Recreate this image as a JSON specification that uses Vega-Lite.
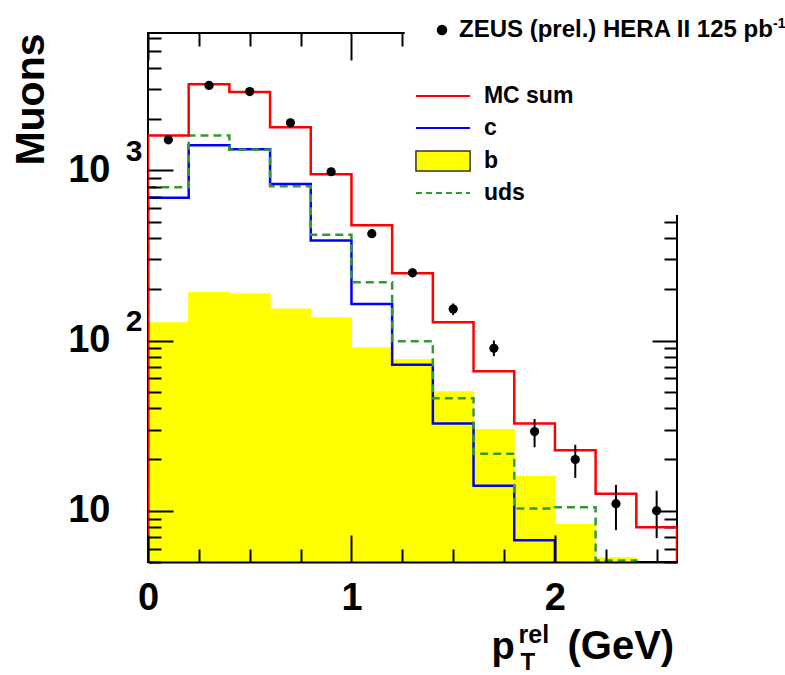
{
  "$schema": "https://vega.github.io/schema/vega-lite/v6.json",
  "width": 529,
  "height": 529,
  "autosize": {"type": "none"},
  "padding": {"left": 148, "top": 33, "right": 108, "bottom": 113},
  "background": "white",
  "config": {
    "view": {"stroke": "black", "strokeWidth": 2},
    "axis": {
      "grid": false,
      "labelFont": "Liberation Sans",
      "titleFont": "Liberation Sans",
      "labelFontWeight": "bold",
      "titleFontWeight": "bold",
      "labelColor": "black",
      "titleColor": "black",
      "tickColor": "black",
      "domainColor": "black",
      "tickWidth": 2,
      "domainWidth": 2,
      "labelFlush": false,
      "labelOverlap": false,
      "labelBound": false
    },
    "text": {"font": "Liberation Sans", "fontWeight": "bold", "color": "black"}
  },
  "datasets": {
    "bins": [
      {"lo": 0.0, "hi": 0.2, "mid": 0.1, "data": 1510, "elo": 1470, "ehi": 1550, "b": 127},
      {"lo": 0.2, "hi": 0.4, "mid": 0.3, "data": 3150, "elo": 3090, "ehi": 3210, "b": 192},
      {"lo": 0.4, "hi": 0.6, "mid": 0.5, "data": 2900, "elo": 2845, "ehi": 2955, "b": 188},
      {"lo": 0.6, "hi": 0.8, "mid": 0.7, "data": 1900, "elo": 1855, "ehi": 1945, "b": 153},
      {"lo": 0.8, "hi": 1.0, "mid": 0.9, "data": 980, "elo": 950, "ehi": 1010, "b": 136},
      {"lo": 1.0, "hi": 1.2, "mid": 1.1, "data": 424, "elo": 404, "ehi": 444, "b": 90.6},
      {"lo": 1.2, "hi": 1.4, "mid": 1.3, "data": 250, "elo": 235, "ehi": 265, "b": 77},
      {"lo": 1.4, "hi": 1.6, "mid": 1.5, "data": 153, "elo": 141, "ehi": 165, "b": 50},
      {"lo": 1.6, "hi": 1.8, "mid": 1.7, "data": 90, "elo": 81, "ehi": 100, "b": 30},
      {"lo": 1.8, "hi": 2.0, "mid": 1.9, "data": 29.2, "elo": 23.6, "ehi": 34.6, "b": 15.9},
      {"lo": 2.0, "hi": 2.2, "mid": 2.1, "data": 20, "elo": 15.6, "ehi": 24.4, "b": 8.3},
      {"lo": 2.2, "hi": 2.4, "mid": 2.3, "data": 11, "elo": 7.7, "ehi": 14.2, "b": 5.3},
      {"lo": 2.4, "hi": 2.6, "mid": 2.5, "data": 10, "elo": 6.9, "ehi": 13.1, "b": null}
    ],
    "edges": [
      {"x": 0.0, "mc": 1, "c": 1, "uds": 1},
      {"x": 0.0, "mc": 1600, "c": 690, "uds": 795},
      {"x": 0.2, "mc": 3200, "c": 1400, "uds": 1600},
      {"x": 0.4, "mc": 2880, "c": 1330, "uds": 1320},
      {"x": 0.6, "mc": 1790, "c": 830, "uds": 805},
      {"x": 0.8, "mc": 947, "c": 387, "uds": 418},
      {"x": 1.0, "mc": 475, "c": 164, "uds": 220},
      {"x": 1.2, "mc": 248, "c": 72, "uds": 99},
      {"x": 1.4, "mc": 128, "c": 32.5, "uds": 45.8},
      {"x": 1.6, "mc": 66, "c": 14, "uds": 21.6},
      {"x": 1.8, "mc": 32.5, "c": 6.7, "uds": 10.3},
      {"x": 2.0, "mc": 22.7, "c": 1, "uds": 10.5},
      {"x": 2.2, "mc": 12.6, "c": 1, "uds": 5.1},
      {"x": 2.4, "mc": 8, "c": 1, "uds": 1},
      {"x": 2.6, "mc": 1, "c": 1, "uds": 1}
    ]
  },
  "layer": [
    {
      "data": {"name": "bins"},
      "mark": {"type": "rect", "fill": "#ffff00", "stroke": "#ffff00", "strokeWidth": 1, "clip": true},
      "encoding": {
        "x": {"field": "lo", "type": "quantitative", "scale": {"domain": [0, 2.6], "nice": false, "zero": false},
          "axis": {"orient": "bottom", "values": [0, 1, 2], "format": "d", "tickSize": -27, "labelFontSize": 38, "labelPadding": 44, "domain": true, "zindex": 1,
            "title": "(GeV)", "titleFontSize": 40, "titleX": 419, "titleY": 96, "titleAlign": "left", "titleBaseline": "alphabetic", "titleAngle": 0}},
        "x2": {"field": "hi"},
        "y": {"field": "b", "type": "quantitative", "scale": {"type": "log", "domain": [5, 6400], "nice": false},
          "axis": {"orient": "left", "values": [10, 100, 1000], "tickSize": -25, "labelExpr": "'10'", "labelFontSize": 38, "labelPadding": 63, "labelBaseline": "middle", "domain": false, "zindex": 1,
            "title": "Muons", "titleFontSize": 41, "titleX": -105, "titleY": 0, "titleAngle": 270, "titleAlign": "right", "titleBaseline": "alphabetic"}},
        "y2": {"datum": 1}
      }
    },
    {
      "data": {"name": "edges"},
      "mark": {"type": "line", "interpolate": "step-after", "stroke": "#0000ff", "strokeWidth": 2.5, "clip": true},
      "encoding": {
        "x": {"field": "x", "type": "quantitative", "scale": {"domain": [0, 2.6], "nice": false, "zero": false},
          "axis": {"orient": "bottom", "values": [0.25, 0.5, 0.75, 1.25, 1.5, 1.75, 2.25, 2.5], "tickSize": -13, "labels": false, "domain": false, "zindex": 1,
            "title": "p", "titleFontSize": 38, "titleX": 343, "titleY": 96, "titleAlign": "left", "titleBaseline": "alphabetic", "titleAngle": 0}},
        "y": {"field": "c", "type": "quantitative", "scale": {"type": "log", "domain": [5, 6400], "nice": false},
          "axis": {"orient": "left", "values": [5, 6, 7, 8, 9, 20, 30, 40, 50, 60, 70, 80, 90, 200, 300, 400, 500, 600, 700, 800, 900, 2000, 3000, 4000, 5000, 6000], "tickSize": -13, "labels": false, "domain": false, "zindex": 1, "title": null}},
        "order": {"value": null}
      }
    },
    {
      "data": {"name": "edges"},
      "mark": {"type": "line", "interpolate": "step-after", "stroke": "#339933", "strokeWidth": 2.5, "strokeDash": [8, 5], "clip": true},
      "encoding": {
        "x": {"field": "x", "type": "quantitative", "scale": {"domain": [0, 2.6], "nice": false, "zero": false},
          "axis": {"orient": "top", "values": [0, 1, 2], "tickSize": -27, "labels": false, "domain": false, "zindex": 0, "title": null}},
        "y": {"field": "uds", "type": "quantitative", "scale": {"type": "log", "domain": [5, 6400], "nice": false},
          "axis": {"orient": "right", "values": [10, 100, 1000], "tickSize": -25, "labels": false, "domain": false, "zindex": 0, "title": null}},
        "order": {"value": null}
      }
    },
    {
      "data": {"name": "edges"},
      "mark": {"type": "line", "interpolate": "step-after", "stroke": "#ff0000", "strokeWidth": 2.5, "clip": true},
      "encoding": {
        "x": {"field": "x", "type": "quantitative", "scale": {"domain": [0, 2.6], "nice": false, "zero": false},
          "axis": {"orient": "top", "values": [0.25, 0.5, 0.75, 1.25, 1.5, 1.75, 2.25, 2.5], "tickSize": -13, "labels": false, "domain": false, "zindex": 0, "title": null}},
        "y": {"field": "mc", "type": "quantitative", "scale": {"type": "log", "domain": [5, 6400], "nice": false},
          "axis": {"orient": "right", "values": [5, 6, 7, 8, 9, 20, 30, 40, 50, 60, 70, 80, 90, 200, 300, 400, 500, 600, 700, 800, 900, 2000, 3000, 4000, 5000, 6000], "tickSize": -13, "labels": false, "domain": false, "zindex": 0, "title": null}},
        "order": {"value": null}
      }
    },
    {
      "data": {"name": "bins"},
      "mark": {"type": "rule", "stroke": "black", "strokeWidth": 2},
      "encoding": {
        "x": {"field": "mid", "type": "quantitative", "scale": {"domain": [0, 2.6], "nice": false, "zero": false},
          "axis": {"orient": "bottom", "ticks": false, "tickSize": 0, "labels": false, "domain": false, "zindex": 1,
            "title": "rel", "titleFontSize": 25, "titleX": 370, "titleY": 80, "titleAlign": "left", "titleBaseline": "alphabetic", "titleAngle": 0}},
        "y": {"field": "elo", "type": "quantitative", "scale": {"type": "log", "domain": [5, 6400], "nice": false},
          "axis": {"orient": "left", "values": [100, 1000], "ticks": false, "tickSize": 0, "labelExpr": "datum.value == 100 ? '2' : '3'", "labelFontSize": 30, "labelPadding": 6, "labelOffset": -19, "labelBaseline": "middle", "domain": false, "zindex": 1, "title": null}},
        "y2": {"field": "ehi"}
      }
    },
    {
      "data": {"name": "bins"},
      "mark": {"type": "point", "shape": "circle", "filled": true, "fill": "black", "opacity": 1, "size": 85},
      "encoding": {
        "x": {"field": "mid", "type": "quantitative", "scale": {"domain": [0, 2.6], "nice": false, "zero": false},
          "axis": {"orient": "bottom", "ticks": false, "tickSize": 0, "labels": false, "domain": false, "zindex": 1,
            "title": "T", "titleFontSize": 24, "titleX": 372, "titleY": 107, "titleAlign": "left", "titleBaseline": "alphabetic", "titleAngle": 0}},
        "y": {"field": "data", "type": "quantitative", "scale": {"type": "log", "domain": [5, 6400], "nice": false}, "axis": null}
      }
    },
    {
      "data": {"values": [{}]},
      "mark": {"type": "rect", "fill": "white", "strokeWidth": 0},
      "encoding": {
        "x": {"datum": 1.262, "type": "quantitative", "axis": null},
        "x2": {"datum": 2.75},
        "y": {"datum": 546, "type": "quantitative", "axis": null},
        "y2": {"datum": 100000}
      }
    },
    {
      "data": {"values": [{}]},
      "mark": {"type": "point", "shape": "circle", "filled": true, "fill": "black", "opacity": 1, "size": 110},
      "encoding": {
        "x": {"datum": 1.445, "type": "quantitative", "axis": null},
        "y": {"datum": 6665, "type": "quantitative", "axis": null}
      }
    },
    {
      "data": {"values": [{}]},
      "mark": {"type": "text", "text": "ZEUS (prel.) HERA II 125 pb", "align": "left", "baseline": "middle", "fontSize": 24},
      "encoding": {
        "x": {"datum": 1.5285, "type": "quantitative", "axis": null},
        "y": {"datum": 6665, "type": "quantitative", "axis": null}
      }
    },
    {
      "data": {"values": [{}]},
      "mark": {"type": "text", "text": "-1", "align": "left", "baseline": "middle", "fontSize": 14},
      "encoding": {
        "x": {"datum": 3.072, "type": "quantitative", "axis": null},
        "y": {"datum": 7200, "type": "quantitative", "axis": null}
      }
    },
    {
      "data": {"values": [{}]},
      "mark": {"type": "rule", "stroke": "#ff0000", "strokeWidth": 2},
      "encoding": {
        "x": {"datum": 1.317, "type": "quantitative", "axis": null},
        "x2": {"datum": 1.583},
        "y": {"datum": 2730, "type": "quantitative", "axis": null}
      }
    },
    {
      "data": {"values": [{}]},
      "mark": {"type": "rule", "stroke": "#0000ff", "strokeWidth": 2},
      "encoding": {
        "x": {"datum": 1.317, "type": "quantitative", "axis": null},
        "x2": {"datum": 1.583},
        "y": {"datum": 1771, "type": "quantitative", "axis": null}
      }
    },
    {
      "data": {"values": [{}]},
      "mark": {"type": "rect", "fill": "#ffff00", "stroke": "#333333", "strokeWidth": 1.5},
      "encoding": {
        "x": {"datum": 1.317, "type": "quantitative", "axis": null},
        "x2": {"datum": 1.583},
        "y": {"datum": 990, "type": "quantitative", "axis": null},
        "y2": {"datum": 1297}
      }
    },
    {
      "data": {"values": [{}]},
      "mark": {"type": "rule", "stroke": "#339933", "strokeWidth": 2, "strokeDash": [6, 4]},
      "encoding": {
        "x": {"datum": 1.317, "type": "quantitative", "axis": null},
        "x2": {"datum": 1.583},
        "y": {"datum": 735, "type": "quantitative", "axis": null}
      }
    },
    {
      "data": {"values": [{}]},
      "mark": {"type": "text", "text": "MC sum", "align": "left", "baseline": "middle", "fontSize": 23},
      "encoding": {
        "x": {"datum": 1.651, "type": "quantitative", "axis": null},
        "y": {"datum": 2730, "type": "quantitative", "axis": null}
      }
    },
    {
      "data": {"values": [{}]},
      "mark": {"type": "text", "text": "c", "align": "left", "baseline": "middle", "fontSize": 23},
      "encoding": {
        "x": {"datum": 1.651, "type": "quantitative", "axis": null},
        "y": {"datum": 1771, "type": "quantitative", "axis": null}
      }
    },
    {
      "data": {"values": [{}]},
      "mark": {"type": "text", "text": "b", "align": "left", "baseline": "middle", "fontSize": 23},
      "encoding": {
        "x": {"datum": 1.651, "type": "quantitative", "axis": null},
        "y": {"datum": 1133, "type": "quantitative", "axis": null}
      }
    },
    {
      "data": {"values": [{}]},
      "mark": {"type": "text", "text": "uds", "align": "left", "baseline": "middle", "fontSize": 23},
      "encoding": {
        "x": {"datum": 1.651, "type": "quantitative", "axis": null},
        "y": {"datum": 735, "type": "quantitative", "axis": null}
      }
    }
  ],
  "resolve": {"axis": {"x": "independent", "y": "independent"}}
}
